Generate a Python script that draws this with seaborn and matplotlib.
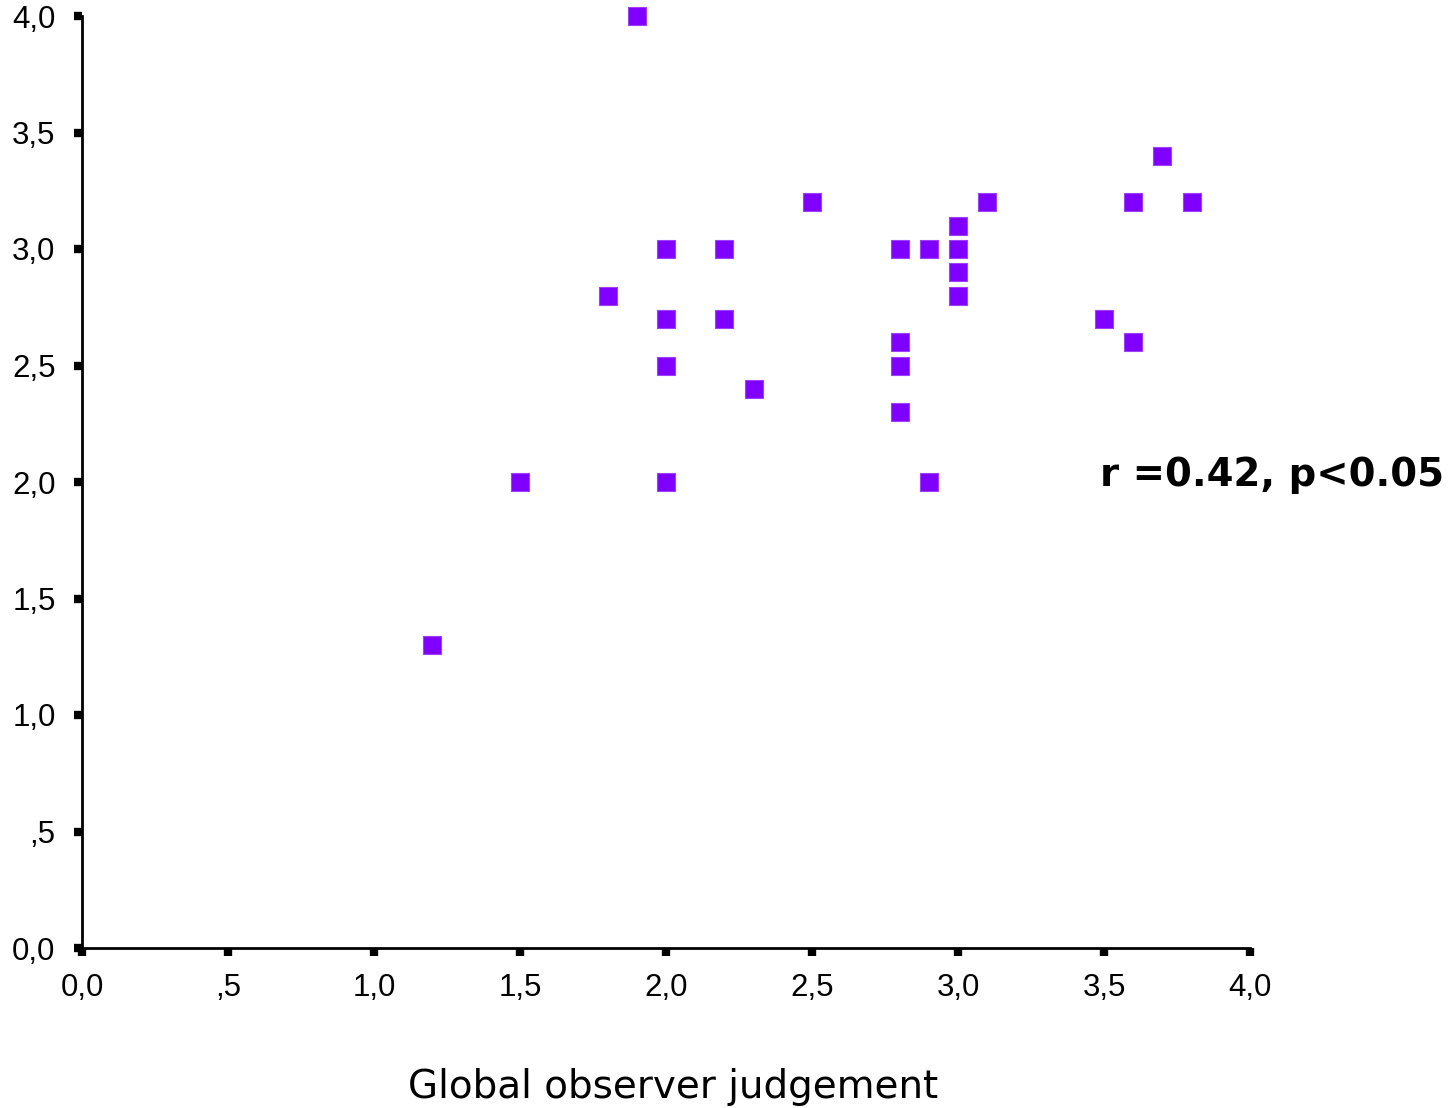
import matplotlib
matplotlib.use("Agg")
import matplotlib.pyplot as plt
import seaborn as sns
import pandas as pd

# Data
observer = [1.9, 1.2, 1.5, 1.8, 2.0, 2.0, 2.0, 2.0, 2.2, 2.2, 2.3, 2.5,
            2.8, 2.8, 2.8, 2.8, 2.9, 2.9, 3.0, 3.0, 3.0, 3.0, 3.1, 3.5,
            3.6, 3.6, 3.7, 3.8]
score = [4.0, 1.3, 2.0, 2.8, 3.0, 2.7, 2.5, 2.0, 3.0, 2.7, 2.4, 3.2,
         3.0, 2.6, 2.5, 2.3, 3.0, 2.0, 3.1, 3.0, 2.9, 2.8, 3.2, 2.7,
         3.2, 2.6, 3.4, 3.2]
tick_values = [0.0, 0.5, 1.0, 1.5, 2.0, 2.5, 3.0, 3.5, 4.0]
tick_labels = ["0,0", ",5", "1,0", "1,5", "2,0", "2,5", "3,0", "3,5", "4,0"]
annotation = "r =0.42, p<0.05"
xlabel = "Global observer judgement"

df = pd.DataFrame({"observer": observer, "score": score})

sns.set_style("white")
plt.rcParams["font.family"] = ["DejaVu Sans"]
plt.rcParams["text.color"] = "black"

fig = plt.figure(figsize=(14.53, 11.08), dpi=100)
ax = fig.add_axes([82/1453, 1-948/1108, (1250-82)/1453, (948-16)/1108])

sns.scatterplot(data=df, x="observer", y="score", ax=ax, marker="s",
                s=13**2, color="#7F00FF", edgecolor="#A040FF", linewidth=0.8,
                clip_on=False, zorder=3)

ax.set_xlim(0, 4)
ax.set_ylim(0, 4)
ax.set_xticks(tick_values)
ax.set_xticklabels(tick_labels)
ax.set_yticks(tick_values)
ax.set_yticklabels(tick_labels)
ax.set_xlabel("")
ax.set_ylabel("")

for side in ["top", "right"]:
    ax.spines[side].set_visible(False)
for side in ["left", "bottom"]:
    ax.spines[side].set_linewidth(2.0)
    ax.spines[side].set_color("black")

ax.tick_params(axis="both", which="major", direction="out", length=6,
               width=6, color="black", labelcolor="black", labelsize=22.5,
               bottom=True, left=True)
ax.tick_params(axis="y", pad=13)
ax.tick_params(axis="x", pad=12)
for lab in ax.get_xticklabels() + ax.get_yticklabels():
    lab.set_fontfamily(["Liberation Sans", "DejaVu Sans"])

ax.text(3.486, 2.03, annotation, fontsize=27.8, fontweight="bold",
        color="black", ha="left", va="center", clip_on=False)

fig.text(673/1453, 1-1087/1108, xlabel, fontsize=28, color="black",
         ha="center", va="center")

fig.savefig("out.png", dpi=100, facecolor="white")
